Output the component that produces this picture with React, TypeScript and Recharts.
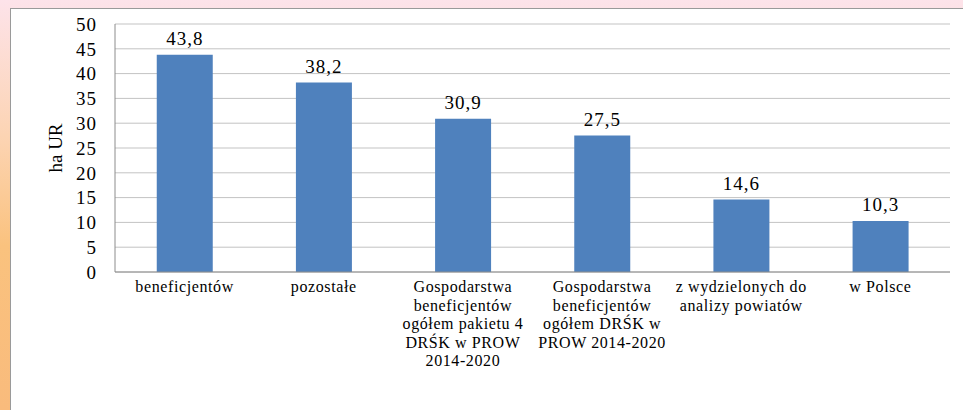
import React from 'react';
import { BarChart, Bar, XAxis, YAxis, CartesianGrid, LabelList } from 'recharts';

const categories = [
  'beneficjentów',
  'pozostałe',
  'Gospodarstwa beneficjentów ogółem pakietu 4 DRŚK w PROW 2014-2020',
  'Gospodarstwa beneficjentów ogółem DRŚK w PROW 2014-2020',
  'z wydzielonych do analizy powiatów',
  'w Polsce',
];
const values = [43.8, 38.2, 30.9, 27.5, 14.6, 10.3];
const yTicks = [0, 5, 10, 15, 20, 25, 30, 35, 40, 45, 50];

const FONT = 'Liberation Serif, DejaVu Serif, serif';

// greedy wrap, roughly what the original chart did
const wrap = (text: string, max = 17) => {
  const words = text.split(' ');
  const lines: string[] = [];
  let cur = '';
  words.forEach((w) => {
    const next = cur ? cur + ' ' + w : w;
    if (next.length > max && cur) {
      lines.push(cur);
      cur = w;
    } else {
      cur = next;
    }
  });
  if (cur) lines.push(cur);
  return lines;
};

const CategoryTick = (props: any) => {
  const { x, y, payload } = props;
  const lines = wrap(payload.value);
  return (
    <text
      x={x}
      y={y}
      textAnchor="middle"
      style={{ fontFamily: FONT, fontSize: 16, letterSpacing: 0.6 }}
      fill="#000"
    >
      {lines.map((l, i) => (
        <tspan key={i} x={x} dy={i === 0 ? 12 : 18.5}>
          {l}
        </tspan>
      ))}
    </text>
  );
};

const App: React.FC = () => {
  const data = categories.map((name, i) => ({ name, value: values[i] }));

  return (
    <div
      style={{
        position: 'fixed',
        left: 0,
        top: 0,
        width: 963,
        height: 410,
        background: 'linear-gradient(to bottom, #fde3ea 0%, #fcd3b0 35%, #fac27e 60%, #f9bb7c 100%)',
        overflow: 'hidden',
      }}
    >
      <div
        style={{
          position: 'absolute',
          left: 10,
          top: 8,
          right: 0,
          bottom: 0,
          background: '#fff',
          borderLeft: '1px solid #9a9a9a',
          borderTop: '1px solid #9a9a9a',
        }}
      />
      <div style={{ position: 'absolute', left: 0, top: 0 }}>
        <BarChart
          width={963}
          height={410}
          data={data}
          margin={{ top: 24, right: 13, bottom: 0, left: 45 }}
          barCategoryGap="30%"
        >
          <CartesianGrid vertical={false} stroke="#c3c3c3" />
          <XAxis
            dataKey="name"
            interval={0}
            tick={<CategoryTick />}
            tickLine={false}
            axisLine={{ stroke: '#8c8c8c' }}
            height={138}
          />
          <YAxis
            domain={[0, 50]}
            ticks={yTicks}
            interval={0}
            width={70}
            tickLine={false}
            tickMargin={12}
            axisLine={{ stroke: '#8c8c8c' }}
            tick={{ style: { fontFamily: FONT, fontSize: 19, letterSpacing: 1 }, fill: '#000' }}
            label={{
              value: 'ha UR',
              angle: -90,
              position: 'insideLeft',
              offset: 10,
              style: { fontFamily: FONT, fontSize: 19, fill: '#000', textAnchor: 'middle' },
            }}
          />
          <Bar dataKey="value" fill="#4f81bd" isAnimationActive={false}>
            <LabelList
              dataKey="value"
              position="top"
              offset={10}
              formatter={(v: any) => String(v).replace('.', ',')}
              style={{ fontFamily: FONT, fontSize: 19, letterSpacing: 1, fill: '#000' }}
            />
          </Bar>
        </BarChart>
      </div>
    </div>
  );
};

export default App;
